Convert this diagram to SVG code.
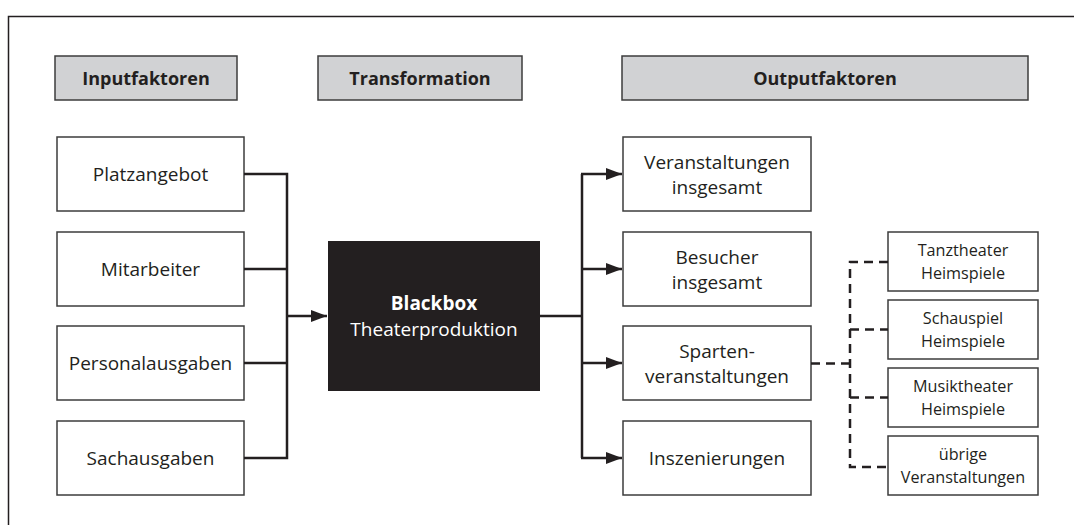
<svg xmlns="http://www.w3.org/2000/svg" width="1074" height="525" viewBox="0 0 1074 525">
<style>
.hdr{fill:#d1d2d4;stroke:#3c3c3c;stroke-width:1.5}
.box{fill:#fff;stroke:#3c3c3c;stroke-width:1.5}
.ht{font-family:"Open Sans","Noto Sans",sans-serif;font-weight:bold;font-size:18px;fill:#231f20;text-anchor:middle}
.t{font-family:"Open Sans","Noto Sans",sans-serif;font-size:19px;fill:#231f20;text-anchor:middle}
.st{font-family:"Open Sans","Noto Sans",sans-serif;font-size:16.2px;fill:#231f20;text-anchor:middle}
.ln{fill:none;stroke:#231f20;stroke-width:2.5}
.dl{fill:none;stroke:#231f20;stroke-width:2.5;stroke-dasharray:9,6}
</style>
<defs>
<marker id="ah" markerWidth="16" markerHeight="12" refX="16" refY="6" orient="auto" markerUnits="userSpaceOnUse">
<path d="M0,0 L16,6 L0,12 Z" fill="#231f20"/>
</marker>
</defs>
<rect width="1074" height="525" fill="#fff"/>
<path d="M8.5,530 V16.5 H1080" fill="none" stroke="#231f20" stroke-width="1.5"/>

<g id="h-input"><rect class="hdr" x="55" y="56" width="182" height="44"/><text class="ht" x="146" y="84.5">Inputfaktoren</text></g>
<g id="h-trans"><rect class="hdr" x="318" y="56" width="204" height="44"/><text class="ht" x="420" y="84.5">Transformation</text></g>
<g id="h-output"><rect class="hdr" x="622" y="56" width="406" height="44"/><text class="ht" x="825" y="84.5">Outputfaktoren</text></g>

<g id="in1"><rect class="box" x="57" y="137" width="187" height="74"/><text class="t" x="150.5" y="181">Platzangebot</text></g>
<g id="in2"><rect class="box" x="57" y="232" width="187" height="74"/><text class="t" x="150.5" y="276">Mitarbeiter</text></g>
<g id="in3"><rect class="box" x="57" y="326" width="187" height="74"/><text class="t" x="150.5" y="370">Personalausgaben</text></g>
<g id="in4"><rect class="box" x="57" y="421" width="187" height="74"/><text class="t" x="150.5" y="465">Sachausgaben</text></g>

<g id="blackbox"><rect x="328" y="241" width="212" height="150" fill="#231f20"/>
<text class="t" x="434" y="310" style="fill:#fff;font-weight:bold">Blackbox</text>
<text class="t" x="434" y="336" style="fill:#fff">Theaterproduktion</text></g>

<g id="out1"><rect class="box" x="623" y="137" width="188" height="74"/><text class="t" x="717" y="168.5">Veranstaltungen</text><text class="t" x="717" y="193.5">insgesamt</text></g>
<g id="out2"><rect class="box" x="623" y="232" width="188" height="74"/><text class="t" x="717" y="263.5">Besucher</text><text class="t" x="717" y="288.5">insgesamt</text></g>
<g id="out3"><rect class="box" x="623" y="326" width="188" height="74"/><text class="t" x="717" y="357.5">Sparten-</text><text class="t" x="717" y="382.5">veranstaltungen</text></g>
<g id="out4"><rect class="box" x="623" y="421" width="188" height="74"/><text class="t" x="717" y="465">Inszenierungen</text></g>

<g id="sub1"><rect class="box" x="888" y="232" width="150" height="59"/><text class="st" x="963" y="256">Tanztheater</text><text class="st" x="963" y="279">Heimspiele</text></g>
<g id="sub2"><rect class="box" x="888" y="300" width="150" height="59"/><text class="st" x="963" y="324">Schauspiel</text><text class="st" x="963" y="347">Heimspiele</text></g>
<g id="sub3"><rect class="box" x="888" y="368" width="150" height="59"/><text class="st" x="963" y="392">Musiktheater</text><text class="st" x="963" y="415">Heimspiele</text></g>
<g id="sub4"><rect class="box" x="888" y="436" width="150" height="59"/><text class="st" x="963" y="460">übrige</text><text class="st" x="963" y="483">Veranstaltungen</text></g>

<g id="connectors">
<path class="ln" d="M244,174 H287 V458 H244 M244,269 H287 M244,363 H287"/>
<path class="ln" d="M287,316 H327" marker-end="url(#ah)"/>
<path class="ln" d="M540,316 H582 M582,174 V458"/>
<path class="ln" d="M581,174 H622" marker-end="url(#ah)"/>
<path class="ln" d="M582,269 H622" marker-end="url(#ah)"/>
<path class="ln" d="M582,363 H622" marker-end="url(#ah)"/>
<path class="ln" d="M581,458 H622" marker-end="url(#ah)"/>
<path class="dl" d="M811,363.5 H850"/>
<path class="dl" d="M888,262 H850 V467 H888"/>
<path class="dl" d="M850,329.5 H888"/>
<path class="dl" d="M850,397.5 H888"/>
</g>
</svg>
